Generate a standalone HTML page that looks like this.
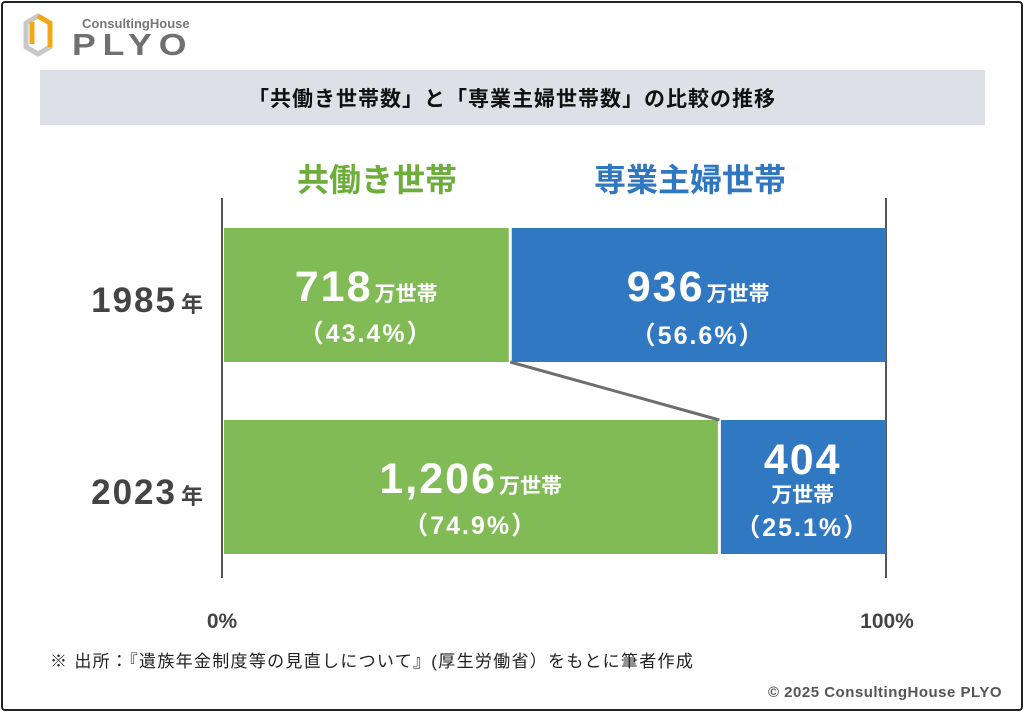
<!DOCTYPE html>
<html><head><meta charset="utf-8">
<style>
body{margin:0;width:1024px;height:712px;background:#fff;overflow:hidden;font-family:"Liberation Sans","Noto Sans CJK JP",sans-serif;}
#frame{position:absolute;left:1px;top:1px;width:1018px;height:706px;border:2px solid #222;border-radius:4px;box-sizing:content-box;}
svg{position:absolute;left:0;top:0}
</style></head><body>
<div id="frame"></div>
<svg width="1024" height="712" id="chart" font-family="Liberation Sans, Noto Sans CJK JP, sans-serif">
  <g>
    <polygon points="38,16 50,23 50,47 38,54 26,47 26,23" fill="none" stroke="#c8c8c8" stroke-width="5"/>
    <path d="M38,16 L50,23 L50,47 M32,22 L32,44" fill="none" stroke="#f0a818" stroke-width="5"/>
    <text x="82" y="28" font-size="13" font-weight="bold" fill="#777">ConsultingHouse</text>
    <text x="72" y="55" font-size="31" font-weight="bold" fill="#707070" letter-spacing="6" transform="translate(72,55) scale(1.15,1) translate(-72,-55)">PLYO</text>
  </g>
  <rect x="40" y="70" width="945" height="55" fill="#dde0e6"/>
  <text x="512" y="106" font-size="21" font-weight="bold" text-anchor="middle" fill="#111" letter-spacing="1">「共働き世帯数」と「専業主婦世帯数」の比較の推移</text>
  <text x="377" y="191" font-size="32" font-weight="bold" text-anchor="middle" fill="#6cad3c">共働き世帯</text>
  <text x="690" y="191" font-size="32" font-weight="bold" text-anchor="middle" fill="#2f77c0">専業主婦世帯</text>
  <g id="bars"></g>
  <text x="222" y="628" font-size="21" font-weight="bold" text-anchor="middle" fill="#444">0%</text>
  <text x="887" y="628" font-size="21" font-weight="bold" text-anchor="middle" fill="#444">100%</text>
  <text x="50" y="667" font-size="17" fill="#222" letter-spacing="1.3">※ 出所：『遺族年金制度等の見直しについて』(厚生労働省）をもとに筆者作成</text>
  <text x="1002" y="697" font-size="15" font-weight="bold" text-anchor="end" fill="#555" letter-spacing="0.5">© 2025 ConsultingHouse PLYO</text>
</svg>
<script>
const years = ['1985', '2023'];
const dualIncome = [718, 1206];
const housewife = [936, 404];
const dualLabels = ['718', '1,206'];
const hwLabels = ['936', '404'];

const NS='http://www.w3.org/2000/svg';
const g=document.getElementById('bars');
const x0=222,x1=886;
const xs=p=>x0+(x1-x0)*p;
const rowTop=[228,420], rowH=134;
function el(t,a,txt){const e=document.createElementNS(NS,t);for(const k in a)e.setAttribute(k,a[k]);if(txt!=null)e.textContent=txt;g.appendChild(e);return e;}
const ln1=el('line',{x1:x0,y1:198,x2:x0,y2:578,stroke:'#555','stroke-width':2});


const ln2=el('line',{x1:x1,y1:198,x2:x1,y2:578,stroke:'#555','stroke-width':2});


const splits=[];
years.forEach((y,i)=>{
  const tot=dualIncome[i]+housewife[i];
  const p=dualIncome[i]/tot;
  const xm=xs(p);splits.push(xm);
  const top=rowTop[i];
  const r1=el('rect',{x:x0+2,y:top,width:xm-x0-2-1.5,height:rowH,fill:'#80bb55'});
  
  
  const r2=el('rect',{x:xm+1.5,y:top,width:x1-xm-1.5,height:rowH,fill:'#3178c2'});
  
  
  const yl=el('text',{x:205,y:top+84,'font-size':35,'font-weight':'bold','text-anchor':'end',fill:'#444','letter-spacing':2});
  yl.innerHTML=y+'<tspan font-size="22" dx="4">年</tspan>';
  
  
  const pd=(p*100).toFixed(1), ph=(100-p*100).toFixed(1);
  const cx1=(x0+xm)/2, cx2=(xm+x1)/2;
  const t1=el('text',{x:cx1,y:top+73,'font-size':43,'font-weight':'bold','text-anchor':'middle',fill:'#fff','letter-spacing':2});
  t1.innerHTML=dualLabels[i]+'<tspan font-size="21" dx="2" letter-spacing="0">万世帯</tspan>';
  
  
  const q1=el('text',{x:cx1,y:top+114,'font-size':25,'font-weight':'bold','text-anchor':'middle',fill:'#fff','letter-spacing':2},'（'+pd+'%）');
  
  
  const narrow=(x1-xm)<200;
  if(narrow){
    const t2=el('text',{x:cx2,y:top+54,'font-size':43,'font-weight':'bold','text-anchor':'middle',fill:'#fff','letter-spacing':2},hwLabels[i]);
    
    
    const u=el('text',{x:cx2,y:top+82,'font-size':21,'font-weight':'bold','text-anchor':'middle',fill:'#fff'},'万世帯');
    
    
  }else{
    const t2=el('text',{x:cx2,y:top+73,'font-size':43,'font-weight':'bold','text-anchor':'middle',fill:'#fff','letter-spacing':2});
    t2.innerHTML=hwLabels[i]+'<tspan font-size="21" dx="2" letter-spacing="0">万世帯</tspan>';
    
    
  }
  const q2=el('text',{x:cx2,y:top+116,'font-size':25,'font-weight':'bold','text-anchor':'middle',fill:'#fff','letter-spacing':2},'（'+ph+'%）');
  
  
});
const cl=el('line',{x1:splits[0],y1:rowTop[0]+rowH,x2:splits[1],y2:rowTop[1],stroke:'#6e6e6e','stroke-width':3});


</script>
</body></html>
